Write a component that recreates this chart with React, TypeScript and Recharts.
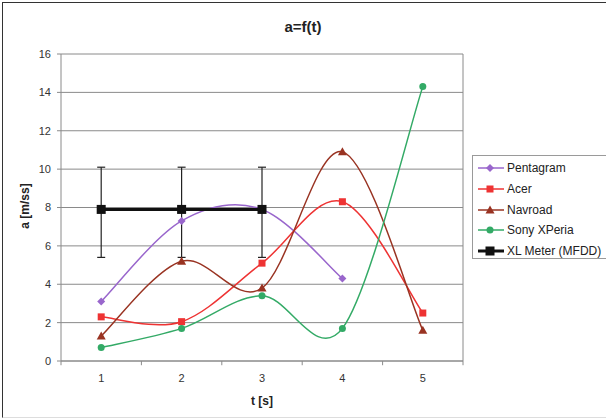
import React from 'react';
import {
  LineChart,
  Line,
  XAxis,
  YAxis,
  CartesianGrid,
  Legend,
  ReferenceLine,
  ErrorBar,
} from 'recharts';

const times = [1, 2, 3, 4, 5];
const pentagram = [3.1, 7.3, 7.9, 4.3, null];
const acer = [2.3, 2.05, 5.1, 8.3, 2.5];
const navroad = [1.3, 5.2, 3.8, 10.9, 1.6];
const sony = [0.7, 1.7, 3.4, 1.7, 14.3];
const xlMeter = [7.9, 7.9, 7.9, null, null];
const xlErrLow = [2.5, 2.5, 2.5, 0, 0];
const xlErrHigh = [2.2, 2.2, 2.2, 0, 0];
const yTicks = [0, 2, 4, 6, 8, 10, 12, 14, 16];
const bandEdges = [0.5, 1.5, 2.5, 3.5, 4.5, 5.5];

const data = times.map((t, i) => ({
  t,
  pentagram: pentagram[i],
  acer: acer[i],
  navroad: navroad[i],
  sony: sony[i],
  xl: xlMeter[i],
  xlErr: [xlErrLow[i], xlErrHigh[i]],
}));

const series = [
  { key: 'pentagram', name: 'Pentagram', color: '#9966CC', shape: 'diamond' },
  { key: 'acer', name: 'Acer', color: '#EE3333', shape: 'square' },
  { key: 'navroad', name: 'Navroad', color: '#993322', shape: 'triangle' },
  { key: 'sony', name: 'Sony XPeria', color: '#33AA66', shape: 'circle' },
  { key: 'xl', name: 'XL Meter (MFDD)', color: '#111111', shape: 'bigsquare' },
];

const FONT = 'Arial, "Liberation Sans", sans-serif';

// Excel-like smoothed line (Catmull-Rom through every point)
const excelSmooth = (context: any) => {
  let pts: number[][] = [];
  return {
    areaStart() {},
    areaEnd() {},
    lineStart() {
      pts = [];
    },
    point(x: number, y: number) {
      pts.push([+x, +y]);
    },
    lineEnd() {
      if (!pts.length) return;
      context.moveTo(pts[0][0], pts[0][1]);
      for (let i = 0; i < pts.length - 1; i++) {
        const p0 = pts[i - 1] || pts[i];
        const p1 = pts[i];
        const p2 = pts[i + 1];
        const p3 = pts[i + 2] || p2;
        context.bezierCurveTo(
          p1[0] + (p2[0] - p0[0]) / 6,
          p1[1] + (p2[1] - p0[1]) / 6,
          p2[0] - (p3[0] - p1[0]) / 6,
          p2[1] - (p3[1] - p1[1]) / 6,
          p2[0],
          p2[1]
        );
      }
    },
  };
};

const Marker = ({ cx, cy, shape, color }: any) => {
  if (cx == null || cy == null) return null;
  if (shape === 'diamond') {
    return <polygon points={`${cx},${cy - 4} ${cx + 4},${cy} ${cx},${cy + 4} ${cx - 4},${cy}`} fill={color} />;
  }
  if (shape === 'square') {
    return <rect x={cx - 3.5} y={cy - 3.5} width={7} height={7} fill={color} />;
  }
  if (shape === 'bigsquare') {
    return <rect x={cx - 4.5} y={cy - 4.5} width={9} height={9} fill={color} />;
  }
  if (shape === 'triangle') {
    return <polygon points={`${cx},${cy - 4.5} ${cx + 4.5},${cy + 3.5} ${cx - 4.5},${cy + 3.5}`} fill={color} />;
  }
  return <circle cx={cx} cy={cy} r={3.5} fill={color} />;
};

const renderDot = (shape: string, color: string) => (props: any) => {
  if (props.value == null) return <g key={props.index} />;
  return <Marker key={props.index} cx={props.cx} cy={props.cy} shape={shape} color={color} />;
};

const LegendBox = () => (
  <div
    style={{
      border: '1px solid #9a9a9a',
      background: '#fff',
      width: 140,
      height: 104,
      boxSizing: 'border-box',
      paddingTop: 2,
      fontFamily: FONT,
      fontSize: 12,
      color: '#222',
    }}
  >
    {series.map((s) => (
      <div key={s.key} style={{ display: 'flex', alignItems: 'center', height: 20.7 }}>
        <svg width={34} height={12} style={{ flex: 'none' }}>
          <line x1={5} y1={6} x2={31} y2={6} stroke={s.color} strokeWidth={s.shape === 'bigsquare' ? 3 : 1.5} />
          <Marker cx={17} cy={6} shape={s.shape} color={s.color} />
        </svg>
        <span style={{ whiteSpace: 'nowrap' }}>{s.name}</span>
      </div>
    ))}
  </div>
);

export default function App() {
  return (
    <div style={{ position: 'absolute', left: 0, top: 0, width: 606, height: 420, background: '#fff', overflow: 'hidden' }}>
      <div
        style={{
          position: 'absolute',
          left: 2,
          top: 2,
          width: 640,
          height: 414,
          borderTop: '1px solid #333',
          borderLeft: '1px solid #333',
          borderBottom: '1px solid #ddd',
        }}
      />
      <div
        style={{
          position: 'absolute',
          left: 0,
          width: 606,
          top: 18,
          textAlign: 'center',
          fontFamily: FONT,
          fontWeight: 'bold',
          fontSize: 15,
          color: '#222',
        }}
      >
        a=f(t)
      </div>
      <div
        style={{
          position: 'absolute',
          left: 0,
          width: 524,
          top: 394,
          textAlign: 'center',
          fontFamily: FONT,
          fontWeight: 'bold',
          fontSize: 12,
          color: '#222',
        }}
      >
        t [s]
      </div>
      <div
        style={{
          position: 'absolute',
          left: 25,
          top: 206,
          transform: 'translate(-50%, -50%) rotate(-90deg)',
          whiteSpace: 'nowrap',
          fontFamily: FONT,
          fontWeight: 'bold',
          fontSize: 12,
          color: '#222',
        }}
      >
        a [m/ss]
      </div>
      <div style={{ position: 'absolute', left: 0, top: 0 }}>
        <LineChart width={606} height={420} data={data} margin={{ top: 54, right: 143, left: 21, bottom: 29 }}>
          <CartesianGrid vertical={false} stroke="#8a8a8a" />
          <XAxis
            dataKey="t"
            type="number"
            domain={[0.5, 5.5]}
            ticks={times}
            height={30}
            tickLine={false}
            tickSize={0}
            tickMargin={13}
            axisLine={{ stroke: '#8a8a8a' }}
            tick={{ fontSize: 11, fill: '#333', fontFamily: FONT }}
          />
          <YAxis
            type="number"
            domain={[0, 16]}
            ticks={yTicks}
            width={40}
            tickSize={4}
            tickMargin={6}
            axisLine={{ stroke: '#8a8a8a' }}
            tickLine={{ stroke: '#8a8a8a' }}
            tick={{ fontSize: 11, fill: '#333', fontFamily: FONT }}
          />
          <ReferenceLine x={5.5} stroke="#8a8a8a" ifOverflow="visible" />
          {bandEdges.map((e) => (
            <ReferenceLine
              key={e}
              segment={[
                { x: e, y: 0 },
                { x: e, y: -0.22 },
              ]}
              stroke="#8a8a8a"
              ifOverflow="visible"
            />
          ))}
          <Legend
            layout="horizontal"
            verticalAlign="middle"
            align="center"
            content={() => <LegendBox />}
            wrapperStyle={{ left: 472, top: 155, width: 140, height: 104 }}
          />
          {series.slice(0, 4).map((s) => (
            <Line
              key={s.key}
              dataKey={s.key}
              name={s.name}
              type={excelSmooth as any}
              stroke={s.color}
              strokeWidth={1.5}
              dot={renderDot(s.shape, s.color)}
              activeDot={false}
              isAnimationActive={false}
            />
          ))}
          <Line
            dataKey="xl"
            name="XL Meter (MFDD)"
            type="linear"
            stroke="#111111"
            strokeWidth={3}
            dot={renderDot('bigsquare', '#111111')}
            activeDot={false}
            isAnimationActive={false}
          >
            <ErrorBar dataKey="xlErr" width={4} stroke="#222" strokeWidth={1.2} direction="y" />
          </Line>
        </LineChart>
      </div>
    </div>
  );
}
